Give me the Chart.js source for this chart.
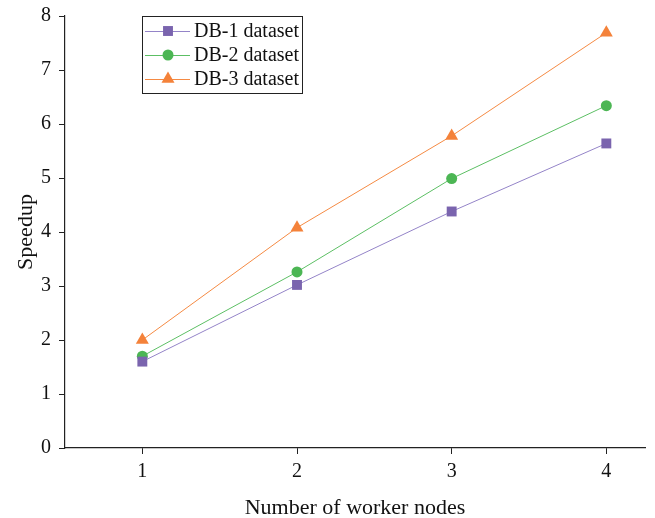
<!DOCTYPE html>
<html>
<head>
<meta charset="utf-8">
<script src="https://cdn.jsdelivr.net/npm/chart.js@4.4.1/dist/chart.umd.min.js"></script>
<style>
  html, body { margin: 0; padding: 0; background: #fff; }
  #wrap { width: 655px; height: 518px; }
</style>
</head>
<body>
<div id="wrap"><canvas id="lineChart" width="655" height="518"></canvas></div>
<script>
// data
const nodes = [1, 2, 3, 4];
const db1 = [1.60, 3.02, 4.38, 5.64];
const db2 = [1.70, 3.26, 4.99, 6.34];
const db3 = [2.00, 4.08, 5.78, 7.69];
const yTicks = [0, 1, 2, 3, 4, 5, 6, 7, 8];

const serif = "'Liberation Serif', 'Times New Roman', serif";

function pts(vals) {
    return nodes.map((n, i) => ({ x: n, y: vals[i] }));
}

// legend box drawn inside the plot, line + marker sample like the original
const legendBox = {
    id: 'legendBox',
    afterDraw(chart) {
        const ctx = chart.ctx;
        const x0 = 142, y0 = 16, w = 160, h = 77;
        ctx.save();
        ctx.fillStyle = '#fff';
        ctx.fillRect(x0, y0, w, h);
        ctx.strokeStyle = '#222';
        ctx.lineWidth = 1;
        ctx.strokeRect(x0 + 0.5, y0 + 0.5, w, h);
        chart.data.datasets.forEach((ds, i) => {
            const y = 31 + i * 24;
            ctx.strokeStyle = ds.borderColor;
            ctx.lineWidth = 1;
            ctx.beginPath();
            ctx.moveTo(145, y + 0.5);
            ctx.lineTo(190, y + 0.5);
            ctx.stroke();
            ctx.fillStyle = ds.pointBackgroundColor;
            ctx.strokeStyle = ds.pointBackgroundColor;
            Chart.helpers.drawPoint(ctx, {
                pointStyle: ds.pointStyle,
                radius: ds.pointRadius,
                rotation: 0,
                borderWidth: 0
            }, 168, y);
            ctx.fillStyle = '#111';
            ctx.font = '20px ' + serif;
            ctx.textBaseline = 'middle';
            ctx.textAlign = 'left';
            ctx.fillText(ds.label, 194, y + 1);
        });
        ctx.restore();
    }
};

const ctx = document.getElementById('lineChart').getContext('2d');
const myChart = new Chart(ctx, {
    type: 'line',
    plugins: [legendBox],
    data: {
        datasets: [
            {
                label: 'DB-1 dataset',
                data: pts(db1),
                borderColor: '#9484c8',
                borderWidth: 1,
                pointStyle: 'rect',
                pointRadius: 7,
                pointBackgroundColor: '#7a64ae',
                pointBorderWidth: 0
            },
            {
                label: 'DB-2 dataset',
                data: pts(db2),
                borderColor: '#5cbf64',
                borderWidth: 1,
                pointStyle: 'circle',
                pointRadius: 5.5,
                pointBackgroundColor: '#4cb654',
                pointBorderWidth: 0
            },
            {
                label: 'DB-3 dataset',
                data: pts(db3),
                borderColor: '#f58a43',
                borderWidth: 1,
                pointStyle: 'triangle',
                pointRadius: 7.5,
                pointBackgroundColor: '#f4823a',
                pointBorderWidth: 0
            }
        ]
    },
    options: {
        responsive: false,
        animation: false,
        layout: { padding: { left: 0, right: 10, top: 16, bottom: 0 } },
        plugins: {
            legend: { display: false },
            tooltip: { enabled: false }
        },
        scales: {
            x: {
                type: 'linear',
                min: 0.5,
                max: 4.25,
                afterBuildTicks: (scale) => { scale.ticks = nodes.map(v => ({ value: v })); },
                afterFit: (scale) => { scale.height = 70; scale.paddingRight = 0; scale.paddingLeft = 0; },
                grid: { drawOnChartArea: false, drawTicks: true, tickLength: 6, color: '#222' },
                border: { display: true, color: '#222', width: 1.2 },
                ticks: { color: '#111', font: { family: serif, size: 20 }, padding: 6 },
                title: {
                    display: true,
                    text: 'Number of worker nodes',
                    color: '#111',
                    font: { family: serif, size: 22 },
                    padding: { top: 4, bottom: -3 }
                }
            },
            y: {
                min: 0,
                max: 8,
                afterBuildTicks: (scale) => { scale.ticks = yTicks.map(v => ({ value: v })); },
                afterFit: (scale) => { scale.width = 65; scale.paddingTop = 0; scale.paddingBottom = 0; },
                grid: { drawOnChartArea: false, drawTicks: true, tickLength: 6, color: '#222' },
                border: { display: true, color: '#222', width: 1.2 },
                ticks: { color: '#111', font: { family: serif, size: 20 }, padding: 8 },
                title: {
                    display: true,
                    text: 'Speedup',
                    color: '#111',
                    font: { family: serif, size: 22 },
                    padding: { top: 13, bottom: 0 }
                }
            }
        }
    }
});
</script>
</body>
</html>
